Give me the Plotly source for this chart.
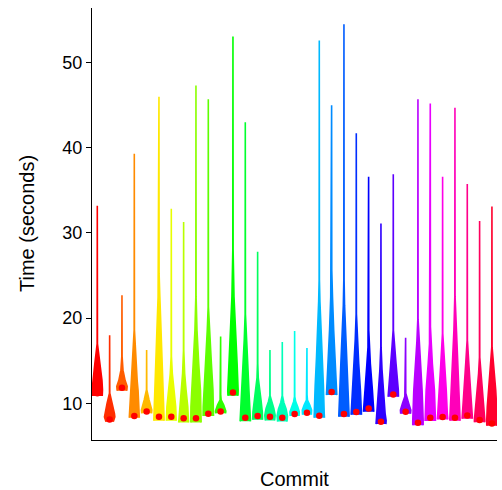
import colorsys
import plotly.graph_objects as go

# ---- data ----
commits = [f"c{i+1:02d}" for i in range(33)]

# red dot per commit (seconds)
dot_time = [11.2, 8.12, 11.83, 8.51, 9.06, 8.44, 8.44, 8.24, 8.24, 8.78, 9.06,
            11.29, 8.32, 8.51, 8.44, 8.32, 8.75, 8.90, 8.55, 11.32, 8.75, 8.98,
            9.41, 7.85, 11.05, 9.02, 7.73, 8.32, 8.40, 8.32, 8.59, 8.04, 7.65]

# violin outline: density knots (time level, relative width), from min to max
profile_levels = [
    [10.86, 11.6, 12.7, 14.7, 17.0, 33.2],
    [7.85, 8.4, 8.8, 10.0, 11.2, 18.0],
    [11.48, 12.0, 12.7, 13.9, 15.5, 22.7],
    [8.32, 9.6, 11.5, 12.7, 14.7, 18.6, 39.3],
    [8.83, 9.2, 10.4, 11.6, 16.25],
    [7.95, 9.6, 11.55, 14.67, 18.58, 22.5, 25.2, 46.0],
    [7.95, 9.6, 11.55, 13.5, 15.5, 32.85],
    [7.76, 9.6, 11.55, 13.5, 16.2, 31.3],
    [7.76, 9.6, 11.55, 14.67, 18.58, 22.5, 47.3],
    [8.51, 9.6, 11.55, 14.67, 18.58, 21.3, 45.7],
    [8.83, 9.1, 9.8, 10.4, 11.0, 17.85],
    [10.9, 11.55, 14.67, 18.58, 22.5, 28.0, 53.05],
    [7.89, 8.8, 11.55, 14.67, 17.5, 20.5, 43.0],
    [8.08, 9.0, 10.4, 11.55, 13.0, 14.67, 27.8],
    [7.99, 8.6, 9.4, 10.2, 10.9, 16.25],
    [7.86, 8.5, 9.3, 10.1, 10.9, 17.2],
    [8.51, 9.0, 9.6, 10.2, 10.8, 18.5],
    [8.67, 9.2, 9.8, 10.4, 11.0, 16.5],
    [8.32, 8.8, 12.0, 15.5, 18.58, 22.0, 24.5, 52.6],
    [10.97, 11.55, 14.67, 18.58, 22.5, 25.6, 45.0],
    [8.44, 8.83, 11.55, 14.67, 18.58, 21.5, 24.45, 54.5],
    [8.67, 9.6, 11.55, 14.67, 17.5, 20.5, 41.7],
    [9.02, 9.6, 11.55, 14.67, 16.6, 18.58, 36.6],
    [7.57, 8.0, 8.83, 11.55, 14.0, 16.6, 31.1],
    [10.78, 11.55, 14.67, 16.6, 18.58, 36.9],
    [8.78, 9.2, 10.0, 10.8, 11.2, 17.7],
    [7.42, 8.05, 11.55, 14.67, 17.3, 19.8, 45.7],
    [7.93, 8.44, 11.55, 14.67, 17.0, 19.0, 45.2],
    [8.12, 8.83, 11.55, 14.67, 18.2, 36.6],
    [7.97, 8.44, 11.55, 14.67, 18.58, 22.5, 44.7],
    [8.2, 8.83, 11.55, 14.67, 17.4, 35.75],
    [7.77, 8.05, 9.6, 11.55, 13.5, 15.4, 31.4],
    [7.38, 8.05, 9.6, 11.55, 14.0, 16.6, 33.1],
]
profile_widths = [
    [0.95, 1.0, 0.9, 0.47, 0.03, 0],
    [0.7, 1.0, 0.93, 0.5, 0.03, 0],
    [0.93, 1.0, 0.6, 0.2, 0.03, 0],
    [0.97, 0.9, 0.73, 0.55, 0.38, 0.03, 0],
    [0.95, 1.0, 0.47, 0.03, 0],
    [1.0, 0.93, 0.8, 0.6, 0.4, 0.17, 0.03, 0],
    [0.95, 0.85, 0.53, 0.2, 0.03, 0],
    [0.95, 0.8, 0.47, 0.2, 0.03, 0],
    [1.0, 0.97, 0.87, 0.53, 0.2, 0.03, 0],
    [1.0, 0.98, 0.9, 0.6, 0.2, 0.03, 0],
    [0.95, 1.0, 0.6, 0.1, 0.02, 0],
    [0.97, 1.0, 0.8, 0.53, 0.2, 0.03, 0],
    [1.0, 0.95, 0.7, 0.47, 0.2, 0.03, 0],
    [0.95, 0.9, 0.65, 0.4, 0.12, 0.03, 0],
    [0.9, 1.0, 0.75, 0.3, 0.03, 0],
    [0.9, 1.0, 0.75, 0.3, 0.03, 0],
    [0.85, 0.9, 0.6, 0.2, 0.03, 0],
    [0.85, 0.9, 0.55, 0.1, 0.02, 0],
    [1.0, 0.95, 0.8, 0.53, 0.3, 0.12, 0.03, 0],
    [1.0, 0.95, 0.67, 0.4, 0.17, 0.03, 0],
    [1.0, 0.97, 0.8, 0.6, 0.27, 0.12, 0.03, 0],
    [1.0, 0.95, 0.8, 0.47, 0.2, 0.03, 0],
    [1.0, 0.95, 0.73, 0.33, 0.12, 0.03, 0],
    [0.95, 1.0, 0.8, 0.47, 0.2, 0.03, 0],
    [1.0, 0.97, 0.53, 0.25, 0.03, 0],
    [0.95, 1.0, 0.6, 0.15, 0.03, 0],
    [1.0, 1.0, 0.8, 0.47, 0.2, 0.03, 0],
    [1.0, 0.97, 0.8, 0.4, 0.15, 0.03, 0],
    [1.0, 0.9, 0.7, 0.35, 0.03, 0],
    [1.0, 0.97, 0.8, 0.5, 0.2, 0.03, 0],
    [1.0, 0.95, 0.63, 0.3, 0.03, 0],
    [1.0, 1.0, 0.8, 0.53, 0.2, 0.03, 0],
    [1.0, 1.0, 0.9, 0.73, 0.35, 0.03, 0],
]

y_ticks = [10, 20, 30, 40, 50]

# ---- styling ----
n = len(commits)
colors = []
for i in range(n):
    r, g, b = colorsys.hsv_to_rgb(i / n, 1, 1)
    colors.append("#%02X%02X%02X" % (round(r * 255), round(g * 255), round(b * 255)))

HALF = 0.42  # half-width (category units) of the widest violin

fig = go.Figure()
for i, (lv, wd) in enumerate(zip(profile_levels, profile_widths)):
    xs = [i + HALF * w for w in wd] + [i - HALF * w for w in reversed(wd)]
    ys = list(lv) + list(reversed(lv))
    fig.add_trace(go.Scatter(
        x=xs, y=ys, mode="lines", fill="toself",
        fillcolor=colors[i], line=dict(color=colors[i], width=1.6),
        hoverinfo="skip", showlegend=False,
    ))

fig.add_trace(go.Scatter(
    x=list(range(n)), y=dot_time, mode="markers",
    marker=dict(color="#FF0000", size=6.5, line=dict(width=0)),
    showlegend=False, hovertext=commits,
))

fig.update_layout(
    width=502, height=490,
    margin=dict(l=92, r=5, t=8, b=50),
    paper_bgcolor="white", plot_bgcolor="white",
    font=dict(family="Liberation Sans, Arial, sans-serif", color="black"),
    xaxis=dict(range=[-0.43, n - 1 + 0.41], showticklabels=False, ticks="",
               showgrid=False, zeroline=False, showline=True,
               linecolor="black", linewidth=1.3),
    yaxis=dict(range=[5.70, 56.41], tickvals=y_ticks,
               ticktext=[str(t) for t in y_ticks],
               ticks="outside", ticklen=5, tickwidth=1.3, tickcolor="black",
               tickfont=dict(size=18, color="black"),
               showgrid=False, zeroline=False, showline=True,
               linecolor="black", linewidth=1.3),
    annotations=[
        dict(text="Commit", xref="paper", yref="paper", x=0.5, y=0.0,
             yshift=-39, showarrow=False, font=dict(size=20, color="black"),
             xanchor="center", yanchor="middle"),
        dict(text="Time (seconds)", xref="paper", yref="paper", x=0, y=0.5,
             xshift=-65, textangle=-90, showarrow=False,
             font=dict(size=20, color="black"),
             xanchor="center", yanchor="middle"),
    ],
)

fig.write_html(
    "out.html",
    config={"displayModeBar": False},
    post_script="document.body.style.margin='0';document.body.style.overflow='hidden';",
)
